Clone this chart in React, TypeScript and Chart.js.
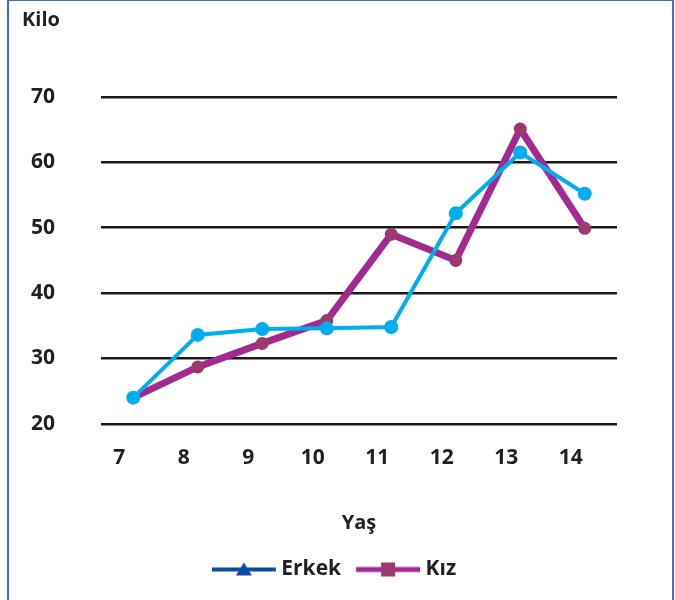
import React, { useEffect, useRef } from "react";
import { Chart, registerables } from "chart.js";

Chart.register(...registerables);

const ages = ["7", "8", "9", "10", "11", "12", "13", "14"];
const erkek = [24, 33.6, 34.5, 34.6, 34.8, 52.2, 61.5, 55.2];
const kiz = [24, 28.7, 32.3, 35.8, 49, 45, 65.1, 49.9];
const yTicks = [20, 30, 40, 50, 60, 70];

const FONT = "'Open Sans', 'DejaVu Sans', sans-serif";
const TEXT = "#231f20";

function legendIcon(lineColor: string, markColor: string, shape: "triangle" | "square") {
  const c = document.createElement("canvas");
  c.width = 68;
  c.height = 18;
  const ctx = c.getContext("2d")!;
  ctx.strokeStyle = lineColor;
  ctx.lineWidth = shape === "triangle" ? 4 : 5;
  ctx.beginPath();
  ctx.moveTo(2, 9);
  ctx.lineTo(66, 9);
  ctx.stroke();
  ctx.fillStyle = markColor;
  if (shape === "triangle") {
    ctx.beginPath();
    ctx.moveTo(34, 2);
    ctx.lineTo(42, 15);
    ctx.lineTo(26, 15);
    ctx.closePath();
    ctx.fill();
  } else {
    ctx.fillRect(27, 2, 14, 14);
  }
  return c;
}

export default function App() {
  const ref = useRef<HTMLCanvasElement | null>(null);
  useEffect(() => {
    if (!ref.current) return;
    const icons = [
      legendIcon("#0d4ba0", "#0d4ba0", "triangle"),
      legendIcon("#a2298f", "#9b3a6d", "square"),
    ];
    const chart = new Chart(ref.current, {
      type: "line",
      data: {
        labels: ages,
        datasets: [
          {
            label: "Erkek",
            data: erkek,
            borderColor: "#00aeef",
            backgroundColor: "#00aeef",
            borderWidth: 4,
            pointRadius: 7,
            pointBorderWidth: 0,
            pointBackgroundColor: "#00aeef",
            tension: 0,
          },
          {
            label: "Kız",
            data: kiz,
            borderColor: "#a2298f",
            backgroundColor: "#9b3a6d",
            borderWidth: 7,
            pointRadius: 6.5,
            pointBorderWidth: 0,
            pointBackgroundColor: "#9b3a6d",
            tension: 0,
          },
        ],
      },
      options: {
        animation: false,
        responsive: false,
        layout: { padding: { left: 13, right: 21, top: 0, bottom: 10 } },
        plugins: {
          tooltip: { enabled: false },
          title: {
            display: true,
            text: "Kilo",
            align: "start",
            color: TEXT,
            font: { family: FONT, size: 20, weight: "700", lineHeight: 1.2 },
            padding: { top: 7, bottom: 65 },
          },
          legend: {
            position: "bottom",
            labels: {
              usePointStyle: true,
              pointStyleWidth: 54,
              padding: 20,
              color: TEXT,
              font: { family: FONT, size: 21, weight: "700", lineHeight: 1.2 },
              generateLabels: (ch: any) =>
                ch.data.datasets.map((ds: any, i: number) => ({
                  text: ds.label,
                  pointStyle: icons[i],
                  fillStyle: "transparent",
                  strokeStyle: "transparent",
                  lineWidth: 0,
                  fontColor: TEXT,
                  datasetIndex: i,
                  hidden: false,
                })),
            },
          },
        },
        scales: {
          x: {
            type: "category",
            offset: true,
            grid: { display: false, drawTicks: false },
            border: { display: false },
            ticks: {
              color: TEXT,
              font: { family: FONT, size: 21, weight: "700", lineHeight: 1.2 },
              padding: 22,
              labelOffset: -14,
              maxRotation: 0,
            },
            title: {
              display: true,
              text: "Yaş",
              color: TEXT,
              font: { family: FONT, size: 20, weight: "700", lineHeight: 1.2 },
              padding: { top: 18, bottom: 4 },
            },
          },
          y: {
            min: 20,
            max: 70,
            afterFit: (s: any) => {
              s.width = 79;
            },
            afterBuildTicks: (s: any) => {
              s.ticks = yTicks.map((v) => ({ value: v }));
            },
            grid: { color: "#1a1a1a", lineWidth: 2.5, drawTicks: false },
            border: { display: false },
            ticks: {
              color: TEXT,
              font: { family: FONT, size: 21, weight: "700", lineHeight: 1.2 },
              padding: 46,
            },
          },
          yRight: {
            position: "right",
            display: true,
            min: 20,
            max: 70,
            afterFit: (s: any) => {
              s.width = 34;
            },
            grid: { display: false, drawTicks: false },
            border: { display: false },
            ticks: { display: false },
          },
        },
      },
    });
    return () => chart.destroy();
  }, []);
  return (
    <div
      style={{
        position: "absolute",
        left: 7,
        top: 0,
        width: 667,
        height: 620,
        boxSizing: "border-box",
        borderLeft: "2px solid #3b6fc0",
        borderRight: "2px solid #3b6fc0",
        borderTop: "1px solid #3b6fc0",
        background: "#fff",
      }}
    >
      <canvas ref={ref} width={663} height={599} style={{ display: "block" }} />
    </div>
  );
}
